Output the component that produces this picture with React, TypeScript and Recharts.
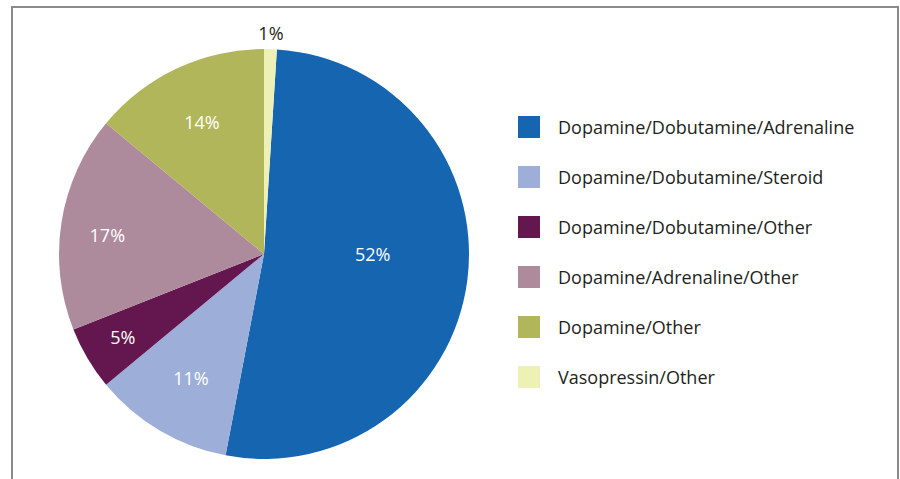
import React from 'react';
import { PieChart, Pie, Cell } from 'recharts';

const categories = [
  'Dopamine/Dobutamine/Adrenaline',
  'Dopamine/Dobutamine/Steroid',
  'Dopamine/Dobutamine/Other',
  'Dopamine/Adrenaline/Other',
  'Dopamine/Other',
  'Vasopressin/Other',
];
const shares = [52, 11, 5, 17, 14, 1];
const colors = ['#1565b1', '#9daed8', '#63174e', '#ae8a9d', '#b1b65a', '#eef1b5'];

// label distance from centre, as a share of the radius (last one sits outside)
const labelRadius = [0.53, 0.7, 0.8, 0.77, 0.71, 1.08];
// small angle nudges (degrees) so labels sit where the original put them
const labelNudge = [7.2, 0, 0, 2, 0, 0];

const data = categories.map((name, i) => ({ name, value: shares[i] }));

const RAD = Math.PI / 180;
const FONT = '"Open Sans", "Noto Sans", sans-serif';

const renderLabel = (props: any) => {
  const { cx, cy, midAngle, outerRadius, index, value } = props;
  const r = outerRadius * labelRadius[index];
  const angle = midAngle + labelNudge[index];
  const x = cx + r * Math.cos(-angle * RAD);
  const y = cy + r * Math.sin(-angle * RAD);
  const outside = labelRadius[index] > 1;
  return (
    <text
      x={x}
      y={y}
      textAnchor="middle"
      dominantBaseline="central"
      fill={outside ? '#231f20' : '#ffffff'}
      fontSize={18}
      fontFamily={FONT}
    >
      {`${value}%`}
    </text>
  );
};

export default function App() {
  return (
    <div style={{ position: 'absolute', left: 0, top: 0, width: 900, height: 479, background: '#fff', overflow: 'hidden' }}>
      <div
        style={{
          position: 'absolute',
          left: 11,
          top: 6,
          width: 884,
          height: 500,
          borderTop: '2px solid #8a8a8a',
          borderLeft: '2px solid #8a8a8a',
          borderRight: '2px solid #8a8a8a',
        }}
      />
      <div style={{ position: 'absolute', left: 0, top: 0 }}>
        <PieChart width={900} height={479} margin={{ top: 0, right: 0, bottom: 0, left: 0 }}>
          <Pie
            data={data}
            dataKey="value"
            nameKey="name"
            cx={264}
            cy={254}
            outerRadius={205}
            startAngle={86.4}
            endAngle={-273.6}
            stroke="none"
            labelLine={false}
            label={renderLabel}
            isAnimationActive={false}
          >
            {data.map((d, i) => (
              <Cell key={d.name} fill={colors[i]} />
            ))}
          </Pie>
        </PieChart>
      </div>
      {categories.map((name, i) => (
        <div
          key={name}
          style={{
            position: 'absolute',
            left: 518,
            top: 116 + i * 50,
            height: 22,
            display: 'flex',
            alignItems: 'center',
            fontFamily: FONT,
            fontSize: 18,
            color: '#231f20',
            whiteSpace: 'nowrap',
          }}
        >
          <span style={{ display: 'inline-block', width: 22, height: 22, background: colors[i], marginRight: 18 }} />
          {name}
        </div>
      ))}
    </div>
  );
}
